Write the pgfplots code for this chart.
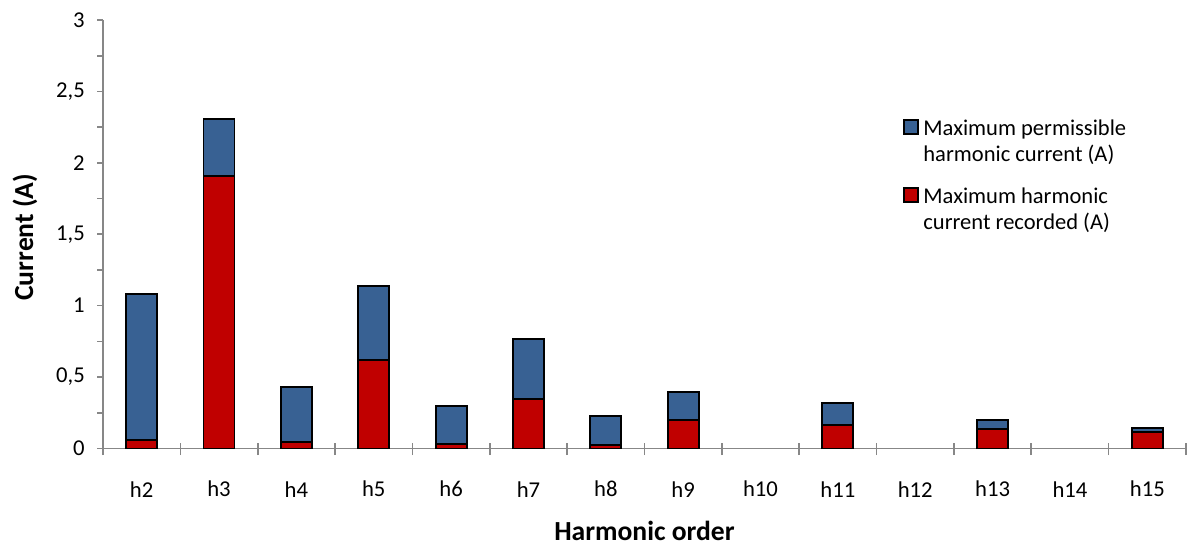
\documentclass[border=0pt]{standalone}
\usepackage{fontspec}
\setmainfont{Carlito}
\usepackage{pgfplots}
\pgfplotsset{compat=1.18}
\definecolor{pblue}{HTML}{386193}
\definecolor{pred}{HTML}{C00000}
\definecolor{axgray}{HTML}{878787}
\begin{document}
\begin{tikzpicture}
\useasboundingbox (-77.25pt,-73.875pt) rectangle (814.5pt,336.375pt);
\begin{axis}[
  scale only axis,
  width=812.25pt, height=321.375pt,
  at={(0,0)}, anchor=south west,
  xmin=-0.5, xmax=13.5, ymin=0, ymax=3,
  axis lines*=left,
  axis line style={axgray, line width=1.2pt},
  xtick={0,...,13},
  xticklabels={h2,h3,h4,h5,h6,h7,h8,h9,h10,h11,h12,h13,h14,h15},
  minor xtick={-0.5,0.5,...,13.5},
  major x tick style={draw=none},
  minor x tick style={axgray, line width=1.2pt, yshift=4.5pt},
  ytick={0,0.25,...,3},
  yticklabels={0,,0{,}5,,1,,1{,}5,,2,,2{,}5,,3},
  y tick style={axgray, line width=1.2pt},
  tick align=outside,
  major tick length=4.5pt, minor tick length=9.5pt,
  yticklabel style={font=\fontsize{17}{19}\selectfont, anchor=east, inner sep=0pt, xshift=-9pt},
  xticklabel style={font=\fontsize{17}{19}\selectfont, anchor=center, yshift=-26pt},
  ylabel={\bfseries Current (A)},
  ylabel style={font=\fontsize{20.7}{24}\selectfont, at={(rel axis cs:0,0.5)}, anchor=center, yshift=58.5pt, xshift=-2.25pt, inner sep=0pt},
  xlabel={\bfseries Harmonic order},
  xlabel style={font=\fontsize{20.7}{24}\selectfont, at={(rel axis cs:0.5,0)}, anchor=center, yshift=-61.5pt, inner sep=0pt},
  legend style={at={(rel axis cs:0.735,0.779)}, anchor=north west, draw=none, fill=none,
    font=\fontsize{16.9}{19.5}\selectfont, nodes={align=left}, row sep=14.25pt, column sep=1.5pt},
  legend cell align=left,
  legend image code/.code={\draw[#1, line width=1.1pt] (0pt,6pt) rectangle (10.5pt,16.5pt);},
]
\addplot[ybar, bar width=23.25pt, bar shift=0pt, fill=pblue, draw=black, line width=1.4pt] coordinates {
(0,1.08) (1,2.305) (2,0.43) (3,1.14) (4,0.30) (5,0.767) (6,0.225) (7,0.396) (9,0.32) (11,0.20) (13,0.144)};
\addplot[ybar, bar width=23.25pt, bar shift=0pt, fill=pred, draw=black, line width=1.4pt] coordinates {
(0,0.057) (1,1.91) (2,0.045) (3,0.62) (4,0.034) (5,0.347) (6,0.022) (7,0.20) (9,0.162) (11,0.139) (13,0.113)};
\legend{Maximum permissible\\harmonic current (A), Maximum harmonic\\current recorded (A)}
\end{axis}
\end{tikzpicture}
\end{document}
